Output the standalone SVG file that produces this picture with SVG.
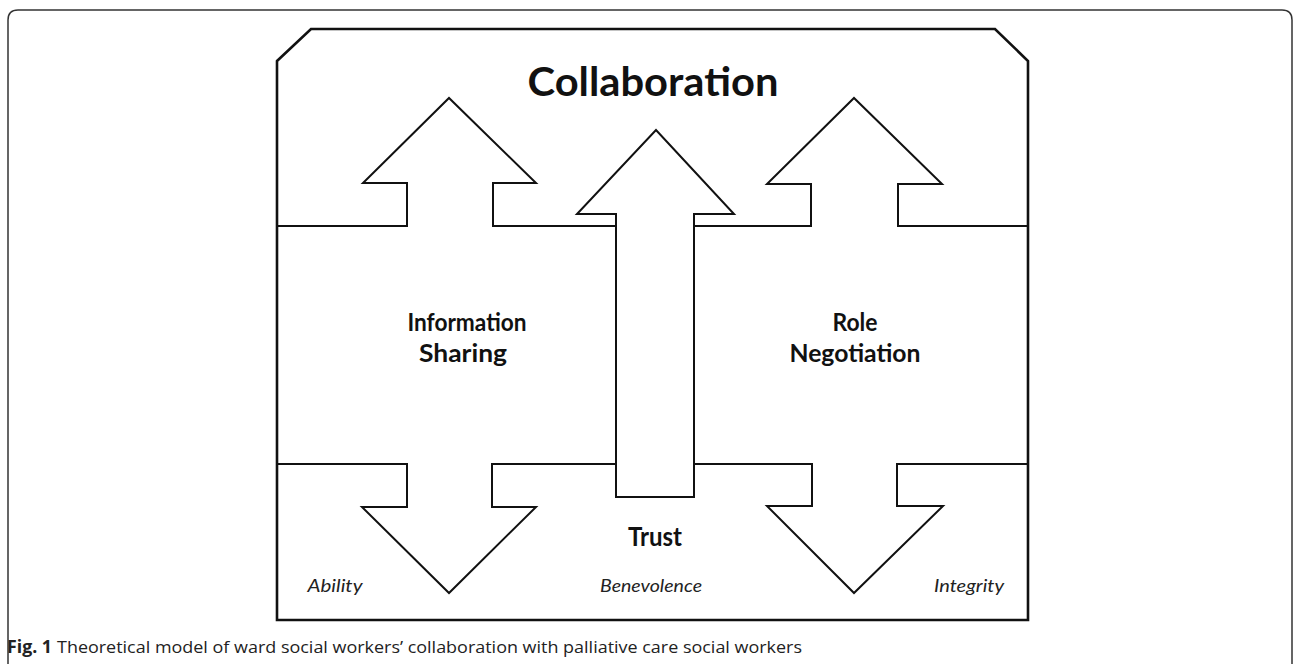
<svg xmlns="http://www.w3.org/2000/svg" width="1293" height="664" viewBox="0 0 1293 664">
<style>
.ln{fill:none;stroke:#111;stroke-width:2;stroke-linejoin:miter}
.fr{fill:none;stroke:#111;stroke-width:2.6}
.shape{fill:#fff;stroke:#111;stroke-width:2}
.b{font-family:Lato,"Open Sans","Liberation Sans",sans-serif;font-weight:bold;fill:#111;text-anchor:middle}
.i{font-family:Lato,"Open Sans","Liberation Sans",sans-serif;font-style:italic;fill:#222;text-anchor:middle;font-size:17px}
.cap{font-family:"Open Sans","Noto Sans","Liberation Sans",sans-serif;font-size:17px;fill:#222}
</style>
<rect x="0" y="0" width="1293" height="664" fill="#fff"/>
<path d="M8,680 V20 Q8,10 18,10 H1282 Q1292,10 1292,20 V680" fill="none" stroke="#333" stroke-width="1.5"/>
<g id="frame">
<path class="fr" d="M277,61 L311,29 H995 L1028,61 V620 H277 Z"/>
</g>
<g id="connectors">
<path class="ln" d="M277,226 H407 V183 H363 L449,98 L536,183 H493 V226 H616"/>
<path class="ln" d="M694,226 H811 V184 H767 L854,98 L942,184 H898 V226 H1028"/>
<path class="ln" d="M277,464 H407 V507 H362 L449,593 L536,507 H492 V464 H616"/>
<path class="ln" d="M694,464 H812 V506 H767 L854,593 L943,506 H897 V464 H1028"/>
</g>
<g id="trust-arrow">
<path class="shape" d="M616,497 V214 H577 L656,130 L734,214 H694 V497 Z"/>
</g>
<g id="collaboration">
<text class="b" x="653" y="96" font-size="40" textLength="251" lengthAdjust="spacingAndGlyphs">Collaboration</text>
</g>
<g id="information-sharing">
<text class="b" x="467" y="331" font-size="24" textLength="119" lengthAdjust="spacingAndGlyphs">Information</text>
<text class="b" x="463" y="362" font-size="24" textLength="88" lengthAdjust="spacingAndGlyphs">Sharing</text>
</g>
<g id="role-negotiation">
<text class="b" x="855" y="331" font-size="24" textLength="45" lengthAdjust="spacingAndGlyphs">Role</text>
<text class="b" x="855" y="362" font-size="24" textLength="131" lengthAdjust="spacingAndGlyphs">Negotiation</text>
</g>
<g id="trust">
<text class="b" x="655" y="546" font-size="26" textLength="54" lengthAdjust="spacingAndGlyphs">Trust</text>
<text class="i" x="335" y="592" textLength="55" lengthAdjust="spacingAndGlyphs">Ability</text>
<text class="i" x="651" y="592" textLength="102" lengthAdjust="spacingAndGlyphs">Benevolence</text>
<text class="i" x="969" y="592" textLength="70" lengthAdjust="spacingAndGlyphs">Integrity</text>
</g>
<g id="caption">
<text class="cap" x="7" y="653" font-weight="bold" textLength="45" lengthAdjust="spacingAndGlyphs">Fig. 1</text>
<text class="cap" x="57" y="653" textLength="745" lengthAdjust="spacingAndGlyphs">Theoretical model of ward social workers’ collaboration with palliative care social workers</text>
</g>
</svg>
